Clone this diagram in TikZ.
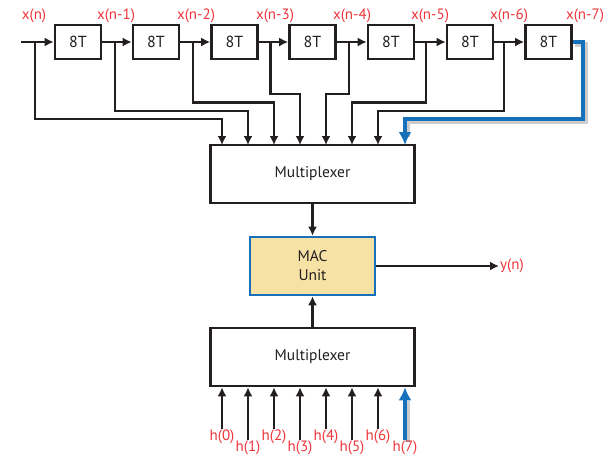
\documentclass[tikz,border=0pt]{standalone}
\usepackage{fontspec}
\setmainfont{PT Sans}
\usepackage{xcolor}
\usetikzlibrary{arrows.meta, positioning, calc}

\definecolor{tapred}{RGB}{238,52,58}
\definecolor{busblue}{RGB}{22,112,186}
\definecolor{macfill}{RGB}{246,226,164}
\definecolor{ink}{RGB}{35,31,32}

\begin{document}
\begin{tikzpicture}[
  x=1pt, y=-1pt,
  delay/.style={rectangle, draw=ink, line width=2.6pt, fill=white,
                minimum width=46pt, minimum height=34pt, inner sep=0pt,
                font=\fontsize{16}{18}\selectfont, text=ink},
  mux/.style={rectangle, draw=ink, line width=2.6pt, fill=white,
              minimum width=204pt, minimum height=58pt, inner sep=0pt,
              font=\fontsize{15.5}{18}\selectfont, text=ink},
  mac/.style={rectangle, draw=busblue, line width=2.6pt, fill=macfill,
              minimum width=125pt, minimum height=58pt, inner sep=0pt,
              align=center, font=\fontsize{15.5}{19}\selectfont, text=ink},
  lbl/.style={text=tapred, font=\fontsize{15}{17}\selectfont, inner sep=1pt},
  arr/.style={-{Latex[length=9pt,width=9pt]}, draw=ink, line width=2.6pt},
  bluearr/.style={-{Latex[length=13pt,width=13pt]}, draw=busblue, line width=4pt},
  shade/.style={draw=black, opacity=0.2, line width=5pt,
                transform canvas={shift={(2,2)}}}
]
  \useasboundingbox (0,0) rectangle (614,459);

  % delay line
  \node[delay] (d1) at (78,42)  {8T};
  \node[delay] (d2) at (156,42) {8T};
  \node[delay] (d3) at (234.5,42) {8T};
  \node[delay] (d4) at (312.5,42) {8T};
  \node[delay] (d5) at (391,42) {8T};
  \node[delay] (d6) at (470,42) {8T};
  \node[delay] (d7) at (548.5,42) {8T};

  \node[lbl] (x0) at (34,16)  {x(n)};
  \node[lbl] (x1) at (116,16) {x(n-1)};
  \node[lbl] (x2) at (196,16) {x(n-2)};
  \node[lbl] (x3) at (275,16) {x(n-3)};
  \node[lbl] (x4) at (352,16) {x(n-4)};
  \node[lbl] (x5) at (430,16) {x(n-5)};
  \node[lbl] (x6) at (509,16) {x(n-6)};
  \node[lbl] (x7) at (585,16) {x(n-7)};

  \coordinate (in) at (21,42);
  \draw[arr] (in) -- (d1);
  \draw[arr] (d1) -- (d2);
  \draw[arr] (d2) -- (d3);
  \draw[arr] (d3) -- (d4);
  \draw[arr] (d4) -- (d5);
  \draw[arr] (d5) -- (d6);
  \draw[arr] (d6) -- (d7);

  % blocks
  \node[mux] (mux1) at (312.5,174) {Multiplexer};
  \node[mac] (mac)  at (312.5,266) {MAC\\Unit};
  \node[mux] (mux2) at (312.5,357) {Multiplexer};

  % taps
  \coordinate (t0) at (35,42);
  \coordinate (t1) at (115,42);
  \coordinate (t2) at (193,42);
  \coordinate (t3) at (270.5,42);
  \coordinate (t4) at (349,42);
  \coordinate (t5) at (426,42);
  \coordinate (t6) at (504,42);
  \coordinate (m0) at (222,145);
  \coordinate (m1) at (248,145);
  \coordinate (m2) at (274,145);
  \coordinate (m3) at (300,145);
  \coordinate (m4) at (326,145);
  \coordinate (m5) at (352,145);
  \coordinate (m6) at (378,145);
  \coordinate (m7) at (405,145);

  \draw[arr] (t0) |- (m0 |- 0,119) -- (m0);
  \draw[arr] (t1) |- (m1 |- 0,111) -- (m1);
  \draw[arr] (t2) |- (m2 |- 0,102.5) -- (m2);
  \draw[arr] (t3) |- (m3 |- 0,94) -- (m3);
  \draw[arr] (t4) |- (m4 |- 0,94) -- (m4);
  \draw[arr] (t5) |- (m5 |- 0,102.5) -- (m5);
  \draw[arr] (t6) |- (m6 |- 0,111) -- (m6);

  \draw[shade] (d7.east) -| (583,119) -| ($(m7)+(0,-10)$);
  \draw[bluearr] (d7.east) -| (583,119) -| (m7);

  % data path
  \draw[arr] (mux1) -- (mac);
  \draw[arr] (mux2) -- (mac);
  \node[lbl, anchor=west] (yn) at (499,266) {y(n)};
  \draw[arr] (mac) -- (yn);

  % coefficients
  \node[lbl] (h0) at (222,437) {h(0)};
  \node[lbl] (h1) at (248,448) {h(1)};
  \node[lbl] (h2) at (274,437) {h(2)};
  \node[lbl] (h3) at (300,448) {h(3)};
  \node[lbl] (h4) at (326,437) {h(4)};
  \node[lbl] (h5) at (352,448) {h(5)};
  \node[lbl] (h6) at (378,437) {h(6)};
  \node[lbl] (h7) at (405,448) {h(7)};

  \draw[arr] (h0) -- (h0 |- mux2.south);
  \draw[arr] (h1) -- (h1 |- mux2.south);
  \draw[arr] (h2) -- (h2 |- mux2.south);
  \draw[arr] (h3) -- (h3 |- mux2.south);
  \draw[arr] (h4) -- (h4 |- mux2.south);
  \draw[arr] (h5) -- (h5 |- mux2.south);
  \draw[arr] (h6) -- (h6 |- mux2.south);
  \draw[shade] (h7) -- ($(h7 |- mux2.south)+(0,12)$);
  \draw[bluearr] (h7) -- (h7 |- mux2.south);
\end{tikzpicture}
\end{document}
